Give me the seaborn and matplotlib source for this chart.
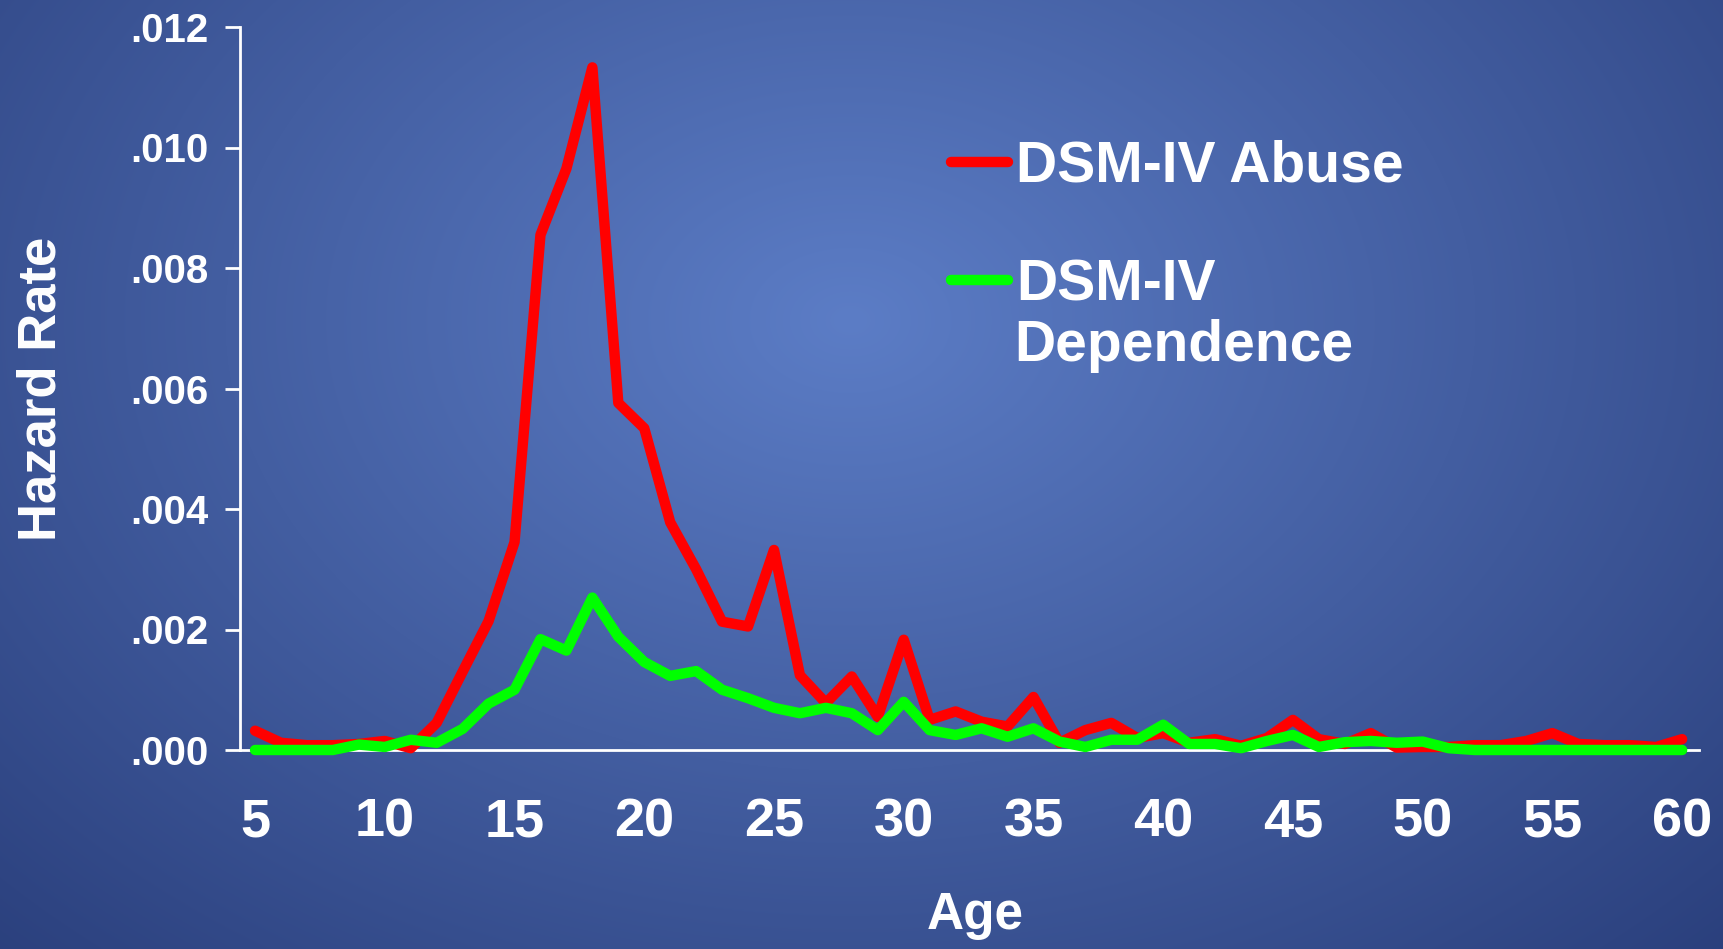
import numpy as np
import pandas as pd
import matplotlib
matplotlib.use('Agg')
import matplotlib.pyplot as plt
import seaborn as sns

# hazard rates, ages 5..60
ages = list(range(5, 61))
abuse = [0.00032, 0.00012, 0.00008, 0.00008, 0.00010, 0.00015, 0.00003, 0.00045,
         0.00130, 0.00214, 0.00345, 0.00855, 0.00965, 0.01133, 0.00576, 0.00534,
         0.00378, 0.00300, 0.00213, 0.00205, 0.00332, 0.00124, 0.00078, 0.00122,
         0.00055, 0.00183, 0.00050, 0.00064, 0.00047, 0.00039, 0.00088, 0.00012,
         0.00033, 0.00045, 0.00020, 0.00028, 0.00012, 0.00018, 0.00007, 0.00020,
         0.00050, 0.00018, 0.00010, 0.00028, 0.00004, 0.00005, 0.00005, 0.00008,
         0.00008, 0.00015, 0.00028, 0.00010, 0.00008, 0.00008, 0.00005, 0.00018]
dependence = [0.0, 0.0, 0.0, 0.0, 0.00009, 0.00005, 0.00017, 0.00012,
              0.00035, 0.00077, 0.00100, 0.00184, 0.00165, 0.00253, 0.00188, 0.00146,
              0.00123, 0.00131, 0.00100, 0.00086, 0.00070, 0.00061, 0.00070, 0.00061,
              0.00033, 0.00080, 0.00033, 0.00025, 0.00036, 0.00022, 0.00036, 0.00014,
              0.00005, 0.00017, 0.00017, 0.00042, 0.00010, 0.00010, 0.00003, 0.00015,
              0.00025, 0.00005, 0.00013, 0.00015, 0.00012, 0.00014, 0.00003, 0.0,
              0.0, 0.0, 0.0, 0.0, 0.0, 0.0, 0.0, 0.0]
xticks = [5, 10, 15, 20, 25, 30, 35, 40, 45, 50, 55, 60]
yticks = [0.000, 0.002, 0.004, 0.006, 0.008, 0.010, 0.012]
ytick_labels = ['.000', '.002', '.004', '.006', '.008', '.010', '.012']

df = pd.DataFrame({'Age': ages, 'DSM-IV Abuse': abuse, 'DSM-IV': dependence})

sns.set_style('white')
plt.rcParams['font.family'] = ['Liberation Sans', 'DejaVu Sans']
plt.rcParams['font.weight'] = 'bold'

W, H = 1724, 949
fig = plt.figure(figsize=(W / 100, H / 100), dpi=100)

# radial blue background
bg = fig.add_axes([0, 0, 1, 1], zorder=-10)
yy, xx = np.mgrid[0:H, 0:W]
r = np.sqrt(((xx - 850) / 1250.0) ** 2 + ((yy - 320) / 900.0) ** 2)
r = np.clip(r, 0, 1)
c_in = np.array([92, 125, 198]) / 255.0
c_out = np.array([42, 63, 124]) / 255.0
img = c_in[None, None, :] * (1 - r[..., None]) + c_out[None, None, :] * r[..., None]
bg.imshow(img, aspect='auto', extent=[0, 1, 0, 1])
bg.axis('off')

ax = fig.add_axes([240 / W, 1 - 750 / H, (1699 - 240) / W, (750 - 27) / H])
ax.patch.set_alpha(0)

sns.lineplot(data=df, x='Age', y='DSM-IV Abuse', ax=ax, color='#FF0000', lw=7.5,
             label='DSM-IV Abuse', solid_capstyle='round', solid_joinstyle='round',
             clip_on=False, zorder=4)
sns.lineplot(data=df, x='Age', y='DSM-IV', ax=ax, color='#00FF00', lw=7.5,
             label='DSM-IV', solid_capstyle='round', solid_joinstyle='round',
             clip_on=False, zorder=5)

ax.set_xlim(4.42, 60.65)
ax.set_ylim(0, 0.012)
ax.set_xticks(xticks)
ax.set_xticklabels([str(t) for t in xticks])
ax.set_yticks(yticks)
ax.set_yticklabels(ytick_labels)

for s in ['top', 'right']:
    ax.spines[s].set_visible(False)
for s in ['left', 'bottom']:
    ax.spines[s].set_color('white')
    ax.spines[s].set_linewidth(2)

ax.tick_params(axis='x', length=0, pad=34, labelsize=39, labelcolor='white')
ax.tick_params(axis='y', direction='out', length=11, width=2, color='white',
               pad=12, labelsize=29, labelcolor='white', left=True)
for lab in ax.get_xticklabels() + ax.get_yticklabels():
    lab.set_fontweight('bold')

ax.set_xlabel('Age', fontsize=37, fontweight='bold', color='white')
ax.xaxis.label.set_va('center')
ax.xaxis.set_label_coords(0.5 + (975 - 969.5) / 1459, (750 - 916) / 723)
ax.set_ylabel('Hazard Rate', fontsize=38, fontweight='bold', color='white')
ax.yaxis.label.set_va('center')
ax.yaxis.set_label_coords((42 - 240) / 1459, 0.5 + (388 - 388.5) / 723)

leg = ax.legend(loc='upper left', bbox_to_anchor=(951 / W, 1 - 140 / H),
                bbox_transform=fig.transFigure, frameon=False,
                fontsize=41, handlelength=1.0, handletextpad=0.15,
                labelspacing=1.13, borderpad=0, borderaxespad=0)
for t in leg.get_texts():
    t.set_color('white')
    t.set_fontweight('bold')
fig.text(1014 / W, 1 - 346 / H, 'Dependence', fontsize=41, fontweight='bold',
         color='white', va='center', ha='left')

fig.savefig('out.png', dpi=100)
